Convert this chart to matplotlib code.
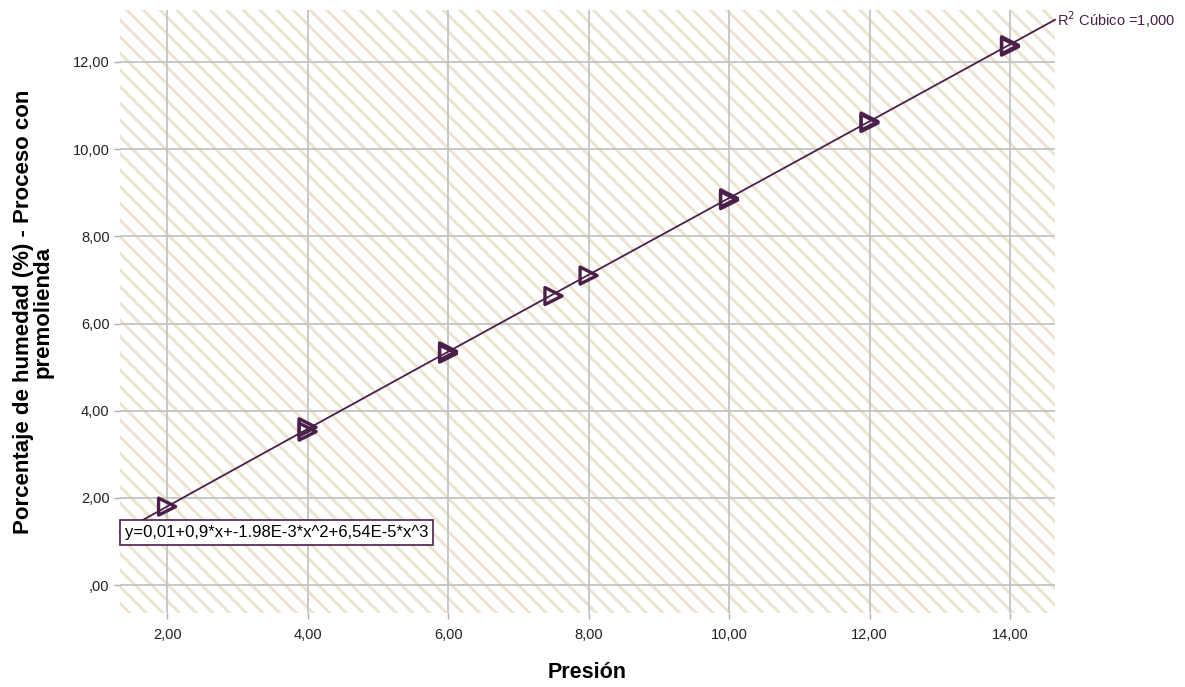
import numpy as np
import matplotlib.pyplot as plt
from matplotlib.patches import Rectangle
from matplotlib.ticker import FuncFormatter

# data
presion = [2.0, 4.0, 4.0, 6.0, 6.0, 7.5, 8.0, 10.0, 10.0, 12.0, 12.0, 14.0, 14.0]
humedad = [1.80, 3.52, 3.62, 5.31, 5.36, 6.63, 7.10, 8.83, 8.87, 10.60, 10.63, 12.35, 12.38]

# cubic fit coefficients as printed in the chart
coef = [0.01, 0.9, -1.98e-3, 6.54e-5]
eq_label = "y=0,01+0,9*x+-1.98E-3*x^2+6,54E-5*x^3"
r2_label = "R$^2$ Cúbico =1,000"

x_ticks = [2, 4, 6, 8, 10, 12, 14]
y_ticks = [0, 2, 4, 6, 8, 10, 12]

purple = "#4a1f4a"
beige = "#ece4cf"

plt.rcParams["font.family"] = ["Liberation Sans", "DejaVu Sans"]
plt.rcParams["hatch.linewidth"] = 2.1
plt.rcParams["hatch.color"] = beige

fig = plt.figure(figsize=(11.85, 6.87), dpi=100)
ax = fig.add_axes([0.1013, 0.1077, 0.789, 0.8777])

xmin, xmax = 1.33, 14.64
ymin, ymax = -0.64, 13.19
ax.set_xlim(xmin, xmax)
ax.set_ylim(ymin, ymax)

# hatched background
ax.add_patch(Rectangle((0, 0), 1, 1, transform=ax.transAxes, facecolor="white",
                       edgecolor=beige, hatch="\\\\", lw=0, zorder=0))

ax.set_xticks(x_ticks)
ax.set_yticks(y_ticks)
ax.grid(True, color="#c4c4c4", lw=1.3, zorder=1)
ax.set_axisbelow(True)


def fmt_comma(v, pos):
    s = ("%.2f" % v).replace(".", ",")
    return s[1:] if s.startswith("0") else s


ax.xaxis.set_major_formatter(FuncFormatter(fmt_comma))
ax.yaxis.set_major_formatter(FuncFormatter(fmt_comma))
ax.tick_params(labelsize=10.5, colors="#222222", length=4, width=1, color="#b0b0b0")
ax.tick_params(axis="x", pad=7)
for s in ax.spines.values():
    s.set_visible(False)

# fit line
xs = np.linspace(xmin, xmax, 200)
ys = coef[0] + coef[1] * xs + coef[2] * xs ** 2 + coef[3] * xs ** 3
ax.plot(xs, ys, color=purple, lw=1.3, zorder=3, clip_on=False)

ax.scatter(presion, humedad, marker=">", s=150, facecolors="none",
           edgecolors=purple, linewidths=2.4, zorder=4)

ax.text(1.002, ys[-1], r2_label, transform=ax.get_yaxis_transform(),
        color=purple, fontsize=10.5, va="center", ha="left")

ax.text(0.005, 0.121, eq_label, transform=ax.transAxes, fontsize=12,
        va="bottom", ha="left", zorder=5,
        bbox=dict(boxstyle="square,pad=0.3", facecolor="white", edgecolor=purple, lw=1.2))

ax.set_xlabel("Presión", fontsize=15.5, fontweight="bold", labelpad=14)
ax.set_ylabel("Porcentaje de humedad (%) - Proceso con\npremolienda", fontsize=16,
              fontweight="bold", labelpad=14, linespacing=0.9)

fig.savefig("out.png", dpi=100)
